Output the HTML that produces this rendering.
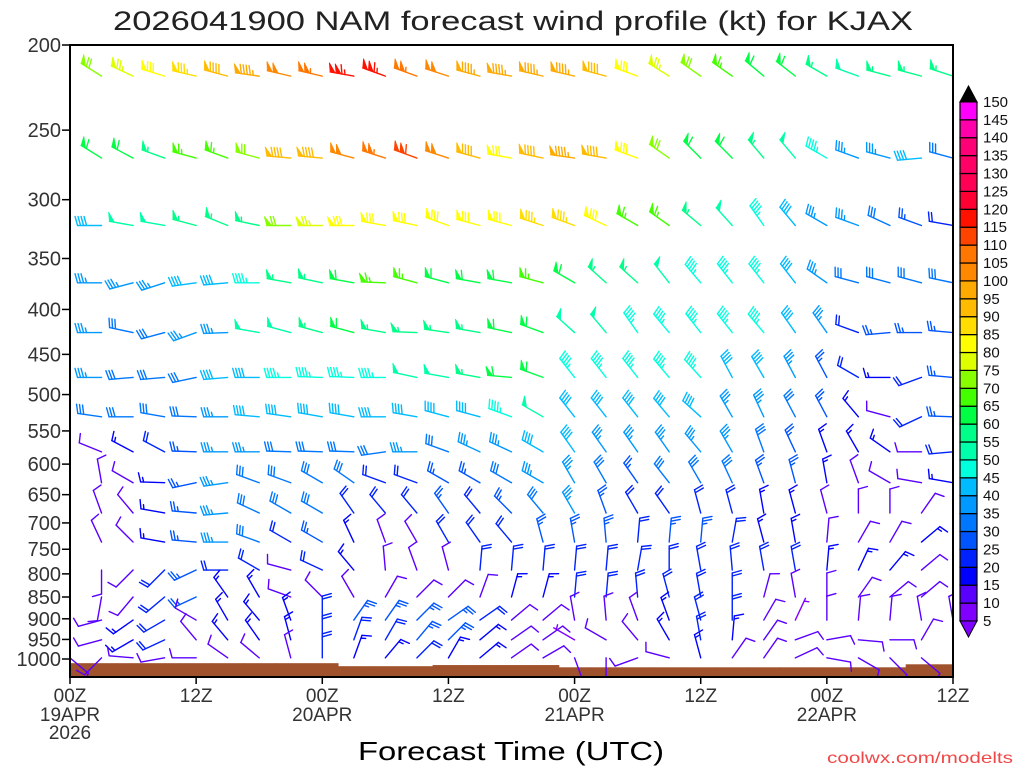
<!DOCTYPE html>
<html><head><meta charset="utf-8"><style>
html,body{margin:0;padding:0;background:#fff;}
svg{display:block;font-family:"Liberation Sans",sans-serif;}
</style></head><body>
<svg id="chart" width="1024" height="768" viewBox="0 0 1024 768" xmlns="http://www.w3.org/2000/svg">
<defs><clipPath id="plotclip"><rect x="70" y="45" width="883" height="632"/></clipPath></defs>
<rect x="0" y="0" width="1024" height="768" fill="#fff"/>
<text x="113" y="30" font-size="27" fill="#222" textLength="800" lengthAdjust="spacingAndGlyphs">2026041900 NAM forecast wind profile (kt) for KJAX</text>
<g id="ground" clip-path="url(#plotclip)"></g>
<g id="barbs" clip-path="url(#plotclip)"></g>
<rect x="70" y="45" width="883" height="632" fill="none" stroke="#000" stroke-width="2"/>
<g id="yaxis"></g>
<g id="xaxis"></g>
<g id="cbar"></g>
<text x="358" y="760" font-size="26" fill="#000" textLength="306" lengthAdjust="spacingAndGlyphs">Forecast Time (UTC)</text>
<text x="827" y="763" font-size="16" fill="#f04848" textLength="186" lengthAdjust="spacingAndGlyphs">coolwx.com/modelts</text>
</svg>
<script>
const hours = [0,3,6,9,12,15,18,21,24,27,30,33,36,39,42,45,48,51,54,57,60,63,66,69,72,75,78,81,84];
const levels = [217,269,321,373,425,478,530,581,630,682,736,792,850,903,951,997];
const sfcPres = [1011,1011,1011,1011,1011,1011,1011,1011,1011,1019,1019,1019,1016,1016,1016,1016,1022,1022,1022,1022,1022,1022,1022,1022,1022,1022,1022,1014,1014];
const yTicks = [200,250,300,350,400,450,500,550,600,650,700,750,800,850,900,950,1000];
const xTickHours = [0,12,24,36,48,60,72,84];
const xTickLine1 = ["00Z","12Z","00Z","12Z","00Z","12Z","00Z","12Z"];
const xTickLine2 = ["19APR","","20APR","","21APR","","22APR",""];
const xTickLine3 = ["2026","","","","","","",""];
const legendValues = [5,10,15,20,25,30,35,40,45,50,55,60,65,70,75,80,85,90,95,100,105,110,115,120,125,130,135,140,145,150];
const legendColors = ["#7f00ff","#5a00ff","#0000ff","#0022ff","#0055ff","#0077ff","#0099ff","#00bbff","#00ffdd","#00ffaa","#00ff88","#00ff44","#44ff00","#88ff00","#ddff00","#ffff00","#ffdd00","#ffbb00","#ffaa00","#ff8800","#ff7700","#ff4400","#ff1100","#ff0033","#ff0055","#ff0066","#ff0077","#ff00aa","#ff00ff"];
const windDir = [
[302,302,295,287,283,285,278,283,283,280,290,290,288,285,280,283,283,285,290,302,305,305,310,308,300,290,285,285,288],
[302,302,298,290,285,290,285,275,275,285,288,290,288,285,280,282,278,280,290,305,315,315,320,320,300,290,285,265,285],
[270,270,280,280,285,292,282,270,270,270,280,282,290,285,285,288,290,295,300,305,310,318,325,320,300,290,295,290,280],
[270,270,255,252,262,265,270,280,282,280,272,285,285,280,280,285,300,312,312,322,320,322,322,322,305,285,285,285,282],
[270,270,282,255,250,268,280,285,285,285,280,272,278,280,282,290,312,320,325,320,322,322,320,325,325,290,265,270,275],
[270,270,265,265,258,265,270,270,272,272,270,282,280,280,275,290,322,322,322,320,318,332,330,332,332,300,270,250,275],
[278,278,270,280,272,270,275,278,280,280,270,280,285,285,290,300,322,322,322,320,312,330,335,332,332,320,285,245,272],
[240,292,298,298,272,270,270,272,272,272,262,270,290,295,295,300,325,325,325,325,320,330,340,335,340,330,305,270,265],
[240,350,300,272,258,262,290,290,300,305,290,290,300,300,300,300,330,330,325,322,330,335,340,345,350,340,300,280,280],
[240,340,320,280,275,265,295,300,300,325,320,320,325,320,315,320,330,340,330,325,345,345,350,345,345,0,0,35,40],
[240,335,315,280,275,270,290,300,300,335,340,330,330,325,320,345,350,355,5,5,5,10,345,350,5,30,30,50,50],
[240,180,225,225,245,270,300,285,295,320,355,340,345,5,5,5,5,5,10,0,350,355,350,350,5,25,40,50,50],
[240,190,220,230,245,325,330,290,315,330,30,45,45,20,15,15,5,5,355,345,350,0,15,350,0,35,50,50,50],
[240,255,235,240,300,330,320,340,0,35,35,45,55,55,50,50,350,355,340,340,345,0,30,25,0,5,5,350,350],
[240,255,240,245,320,320,325,345,0,20,30,40,45,50,55,55,300,300,320,330,350,5,35,70,80,95,90,30,30],
[130,225,275,260,270,305,310,345,0,20,40,45,30,50,55,60,160,180,250,285,345,35,35,65,100,120,135,130,130]
];
const windSpd = [
[70,70,75,80,85,90,95,100,105,115,115,105,100,95,95,95,95,90,80,75,70,65,60,60,55,50,55,55,55],
[60,60,60,55,65,65,70,90,90,100,105,110,100,90,80,90,95,90,80,70,60,60,55,50,45,35,35,40,30],
[40,40,50,50,55,55,55,70,75,80,80,80,80,80,80,85,85,80,65,65,55,50,45,40,35,35,30,25,20],
[35,35,35,35,40,40,45,55,55,60,65,65,60,60,60,65,60,55,55,50,45,45,45,40,35,30,30,30,30],
[35,35,30,30,35,35,50,50,55,60,55,55,55,55,60,60,50,50,45,45,45,45,45,40,35,20,25,25,25],
[35,35,30,30,30,40,40,45,45,45,45,50,50,55,60,60,45,45,45,45,45,40,40,35,25,20,15,20,25],
[30,30,30,30,30,35,40,40,40,40,40,40,40,40,45,50,40,40,40,40,40,35,35,30,25,15,10,20,25],
[10,10,15,20,25,35,35,30,30,30,30,35,30,35,35,40,40,35,35,35,35,35,30,25,15,15,15,10,20],
[10,10,10,15,25,35,30,30,30,30,20,20,25,25,30,35,35,30,25,30,30,30,25,25,15,10,10,10,15],
[10,10,10,15,25,35,30,30,30,20,20,20,25,20,25,30,35,25,20,20,20,20,15,15,10,10,10,10,10],
[10,10,10,15,25,35,30,20,25,15,10,10,20,20,20,25,25,25,20,25,25,20,15,15,10,10,10,15,10],
[10,10,10,20,25,20,20,10,20,15,10,10,10,20,20,20,20,20,20,20,20,20,20,20,15,15,15,10,10],
[10,10,10,20,25,15,15,10,10,10,10,10,10,10,15,15,20,20,20,20,20,20,10,10,10,10,10,10,10],
[10,10,15,20,10,15,15,15,20,25,25,25,25,20,10,10,10,10,10,15,20,20,10,5,10,10,10,10,10],
[10,10,15,20,10,15,15,15,20,20,20,25,25,15,10,10,5,10,10,15,20,15,10,10,10,10,10,10,10],
[10,10,10,10,10,10,10,10,20,15,15,20,15,15,10,10,10,10,10,10,15,10,10,10,10,10,10,10,10]
];

const NS = "http://www.w3.org/2000/svg";
function xOf(h){ return 70 + h * 883 / 84; }
function yOf(p){ return 45 + 381.5 * Math.log(p / 200); }
function mk(tag, attrs, parent){
  const e = document.createElementNS(NS, tag);
  for (const k in attrs) e.setAttribute(k, attrs[k]);
  parent.appendChild(e);
  return e;
}
function colorFor(s){
  let i = Math.floor(s / 5) - 1;
  if (i < 0) i = 0;
  if (i > 28) i = 28;
  return legendColors[i];
}

// ground
const gG = document.getElementById("ground");
const half = 883 / 84 * 1.5;
for (let i = 0; i < hours.length; i++){
  const x = xOf(hours[i]);
  const y = yOf(sfcPres[i]);
  const r = mk("rect", {x: x - half, y: y, width: half * 2 + 0.5, height: 700 - y, fill: "#a0522d"}, gG);
  
  
}

// barbs
const gB = document.getElementById("barbs");
function drawBarb(x, y, dir, spd, parent){
  const s = Math.round(spd / 5) * 5;
  if (s < 5) return;
  const col = colorFor(s);
  const g = mk("g", {stroke: col, fill: col, "stroke-width": 1.4, "stroke-linecap": "round"}, parent);
  
  
  const r = dir * Math.PI / 180;
  const ux = Math.sin(r), uy = -Math.cos(r);
  const L = 24;
  const tx = x + ux * L, ty = y + uy * L;
  mk("line", {x1: x, y1: y, x2: tx, y2: ty}, g);
  const nx = -uy, ny = ux;
  const bx = nx * 9 + ux * 2.5, by = ny * 9 + uy * 2.5;
  function P(d){ return [tx - ux * d, ty - uy * d]; }
  let flags = Math.floor(s / 50);
  let rem = s - flags * 50;
  let full = Math.floor(rem / 10);
  let hf = (rem % 10) >= 5;
  let pos = 0;
  for (let k = 0; k < flags; k++){
    const a = P(pos), b = P(pos + 5);
    mk("polygon", {points: a[0] + "," + a[1] + " " + (a[0] + bx) + "," + (a[1] + by) + " " + b[0] + "," + b[1], "stroke-width": 0.8}, g);
    pos += 6;
  }
  for (let k = 0; k < full; k++){
    const a = P(pos);
    mk("line", {x1: a[0], y1: a[1], x2: a[0] + bx, y2: a[1] + by}, g);
    pos += 3;
  }
  if (hf){
    if (flags === 0 && full === 0) pos = 3;
    const a = P(pos);
    mk("line", {x1: a[0], y1: a[1], x2: a[0] + bx * 0.5, y2: a[1] + by * 0.5}, g);
  }
}
for (let j = 0; j < levels.length; j++){
  for (let i = 0; i < hours.length; i++){
    drawBarb(xOf(hours[i]), yOf(levels[j]), windDir[j][i], windSpd[j][i], gB);
  }
}

// y axis
const gY = document.getElementById("yaxis");
for (let k = 0; k < yTicks.length; k++){
  const y = yOf(yTicks[k]);
  const t = mk("line", {x1: 62, y1: y, x2: 70, y2: y, stroke: "#000", "stroke-width": 1.5}, gY);
  
  
  const lb = mk("text", {x: 61, y: y + 7, "font-size": 20, fill: "#333", "text-anchor": "end"}, gY);
  
  
  lb.textContent = String(yTicks[k]);
}

// x axis
const gX = document.getElementById("xaxis");
for (let k = 0; k < xTickHours.length; k++){
  const x = xOf(xTickHours[k]);
  const t = mk("line", {x1: x, y1: 677, x2: x, y2: 684, stroke: "#000", "stroke-width": 1.5}, gX);
  
  
  const lines = [xTickLine1[k], xTickLine2[k], xTickLine3[k]];
  const ys = [702, 721, 739];
  for (let m = 0; m < 3; m++){
    if (!lines[m]) continue;
    const lb = mk("text", {x: x, y: ys[m], "font-size": 19, fill: "#333", "text-anchor": "middle"}, gX);
    
    
    lb.textContent = lines[m];
  }
}

// color legend
const gC = document.getElementById("cbar");
const cbBottom = 621, cbStep = 17.9, cbX = 960, cbW = 17;
for (let k = 0; k < legendColors.length; k++){
  const y1 = cbBottom - (k + 1) * cbStep;
  const r = mk("rect", {x: cbX, y: y1, width: cbW, height: cbStep, fill: legendColors[k], stroke: "#000", "stroke-width": 1.2}, gC);
  
  
}
const triTop = mk("polygon", {points: cbX + "," + (cbBottom - 29 * cbStep) + " " + (cbX + cbW) + "," + (cbBottom - 29 * cbStep) + " " + (cbX + cbW / 2) + "," + (cbBottom - 29 * cbStep - 16), fill: "#000", stroke: "#000"}, gC);


const triBot = mk("polygon", {points: cbX + "," + cbBottom + " " + (cbX + cbW) + "," + cbBottom + " " + (cbX + cbW / 2) + "," + (cbBottom + 16), fill: "#7f00ff", stroke: "#000"}, gC);


for (let k = 0; k < legendValues.length; k++){
  const y = cbBottom - k * cbStep;
  const lb = mk("text", {x: 983, y: y + 5, "font-size": 15, fill: "#111"}, gC);
  
  
  lb.textContent = String(legendValues[k]);
}
</script>
</body></html>
